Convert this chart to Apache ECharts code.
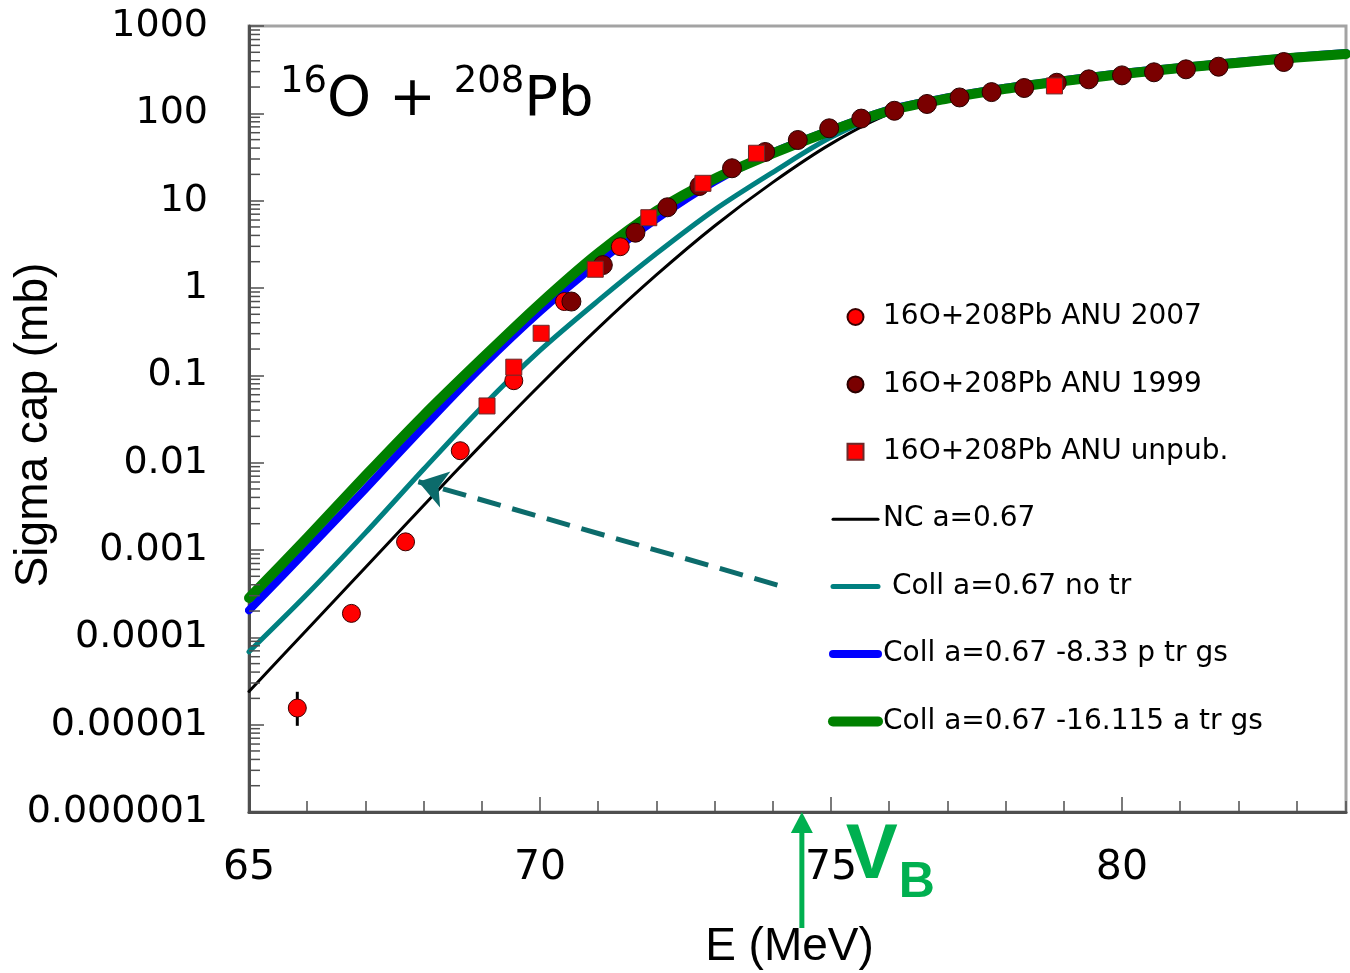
<!DOCTYPE html>
<html>
<head>
<meta charset="utf-8">
<script src="https://cdn.jsdelivr.net/npm/echarts@6/dist/echarts.min.js"></script>
<style>
  html, body { margin: 0; padding: 0; background: #ffffff; }
  #chart { width: 1350px; height: 973px; }
</style>
</head>
<body>
<div id="chart"></div>
<script>
// Fusion (capture) cross section for 16O + 208Pb, log scale in mb vs beam energy

// ---- measured data (E in MeV, sigma in mb) ----
const anu2007E     = [65.83, 66.76, 67.69, 68.63, 69.55, 70.42, 71.38];
const anu2007Sigma = [1.55e-5, 1.88e-4, 1.24e-3, 0.0137, 0.0868, 0.70, 2.97];
// error bar on the lowest point: [E, lower, upper]
const anu2007Err   = [[65.83, 9.7e-6, 2.38e-5]];

const anu1999E     = [70.54, 71.08, 71.64, 72.19, 72.74, 73.30, 73.87, 74.43, 74.97, 75.52,
                      76.09, 76.65, 77.21, 77.76, 78.32, 78.88, 79.43, 80.00, 80.55, 81.10,
                      81.66, 82.78];
const anu1999Sigma = [0.70, 1.83, 4.30, 8.4, 14.7, 23.5, 36.1, 49.5, 67.4, 87,
                      107, 128, 152, 175, 195, 224, 245, 272, 295, 319,
                      342, 387];

const unpubE       = [69.09, 69.55, 70.02, 70.95, 71.87, 72.80, 73.72, 78.84];
const unpubSigma   = [0.0446, 0.124, 0.303, 1.64, 6.38, 15.8, 34.9, 206];

// ---- calculations ----
const calcE        = [65, 66, 67, 68, 69, 70, 71, 72, 73, 74, 75, 76,
                      77, 78, 79, 80, 81, 82, 83, 83.85];
const ncSigma      = [2.4e-5, 1.23e-4, 6.31e-4, 3.24e-3, 0.0162, 0.0776, 0.347, 1.41, 5.13, 16.2,
                      44.7, 97.7, 138, 180, 220, 265, 310, 358, 412, 460];
const collNoTr     = [6.84e-5, 3.13e-4, 1.57e-3, 8.41e-3, 0.0432, 0.193, 0.716, 2.48, 7.85, 21.1,
                      53.1, 101, 142, 183, 223, 268, 313, 361, 415, 463];
const collPTr      = [2.04e-4, 1.0e-3, 5.01e-3, 0.0257, 0.126, 0.537, 1.95, 6.17, 16.6, 35.5,
                      64.5, 110, 152, 196, 240, 289, 338, 389, 446, 490];
const collATr      = [2.82e-4, 1.38e-3, 7.08e-3, 0.0347, 0.155, 0.661, 2.5, 7.6, 17.8, 34.7,
                      63.1, 107, 148, 191, 234, 282, 330, 380, 435, 478];

// ---- axes ----
const xMin = 65, xMax = 83.85;
const xTickLabels = ['65', '70', '75', '80'];
const yMin = 1e-6, yMax = 1000;
const yTickLabels = ['0.000001', '0.00001', '0.0001', '0.001', '0.01', '0.1', '1', '10', '100', '1000'];

// Coulomb barrier marker and the dashed pointer (E, sigma)
const vbEnergy = 74.5;
const pointerFrom = [74.08, 3.97e-4];
const pointerTo   = [67.91, 6.05e-3];

const seriesNames = ['16O+208Pb ANU 2007', '16O+208Pb ANU 1999', '16O+208Pb ANU unpub.',
                     'NC a=0.67', ' Coll a=0.67 no tr', 'Coll a=0.67 -8.33 p tr gs',
                     'Coll a=0.67 -16.115 a tr gs'];

// minor log ticks 2..9 in every decade
const minorTicks = [];
for (let n = -6; n < 3; n++) {
  for (let k = 2; k <= 9; k++) minorTicks.push([xMin, k * Math.pow(10, n)]);
}

const zip = (xs, ys) => xs.map((x, i) => [x, ys[i]]);
const axisGray = '#4f4f4f';
const numFont = 'DejaVu Sans';
const nameFont = 'Liberation Sans';

const chart = echarts.init(document.getElementById('chart'));

function lineSeries(name, data, color, width, extra) {
  return Object.assign({
    name: name,
    type: 'line',
    data: data,
    symbol: 'none',
    smooth: 0.3,
    lineStyle: { color: color, width: width, cap: 'round', join: 'round' },
    itemStyle: { color: color },
    emphasis: { disabled: true },
    silent: true
  }, extra || {});
}

// legend entries: marker icons for data, plain strokes for the calculations
const hiddenDot = { color: 'transparent', borderWidth: 0 };
const legendData = [
  { name: seriesNames[0] },
  { name: seriesNames[1] },
  { name: seriesNames[2], icon: 'path://M0 0H10V10H0Z' },
  { name: seriesNames[3], itemStyle: hiddenDot },
  { name: seriesNames[4], itemStyle: hiddenDot },
  { name: seriesNames[5], itemStyle: hiddenDot },
  { name: seriesNames[6], itemStyle: hiddenDot }
];

const option = {
  animation: false,
  backgroundColor: '#ffffff',
  grid: {
    left: 249, top: 26, width: 1097, height: 786,
    show: true, borderColor: '#a3a3a3', borderWidth: 3, backgroundColor: 'transparent',
    containLabel: false, outerBoundsMode: 'none'
  },
  legend: {
    orient: 'vertical',
    left: 823, top: 295,
    padding: 5,
    itemWidth: 45, itemHeight: 16, itemGap: 33.4,
    selectedMode: false,
    data: legendData,
    lineStyle: { width: 'inherit', cap: 'round' },
    textStyle: { fontFamily: numFont, fontSize: 28, color: '#000', lineHeight: 34 }
  },
  xAxis: [{
    type: 'value', min: xMin, max: xMax, interval: 1,
    axisLine: { show: true, onZero: false, lineStyle: { color: axisGray, width: 3 } },
    axisTick: { show: true, inside: true, length: 11, lineStyle: { color: axisGray, width: 1.5 } },
    axisLabel: { show: false },
    splitLine: { show: false },
    name: 'E (MeV)', nameLocation: 'middle', nameGap: 112, nameMoveOverlap: false,
    nameTextStyle: { fontFamily: nameFont, fontSize: 46, color: '#000', padding: [0, 16, 0, 0] }
  }, {
    type: 'value', min: xMin, max: xMax, interval: 5, position: 'bottom',
    axisLine: { show: false },
    axisTick: { show: true, inside: true, length: 15, lineStyle: { color: axisGray, width: 1.5 } },
    axisLabel: {
      show: true, margin: 36, showMaxLabel: false,
      fontFamily: numFont, fontSize: 41, color: '#000',
      formatter: v => {
        const s = String(Math.round(v));
        return (Math.abs(v - Math.round(v)) < 1e-6 && xTickLabels.includes(s)) ? s : '';
      }
    },
    splitLine: { show: false }
  }],
  yAxis: {
    type: 'log', logBase: 10, min: yMin, max: yMax, interval: 1,
    axisLine: { show: true, onZero: false, lineStyle: { color: axisGray, width: 3 } },
    axisTick: { show: true, inside: true, length: 15, lineStyle: { color: axisGray, width: 1.5 } },
    axisLabel: {
      margin: 41, fontFamily: numFont, fontSize: 38, color: '#000',
      formatter: v => {
        const e = Math.round(Math.log10(v));
        return yTickLabels[e + 6] || '';
      }
    },
    splitLine: { show: false },
    name: 'Sigma cap (mb)', nameLocation: 'middle', nameGap: 192, nameRotate: 90,
    nameMoveOverlap: false,
    nameTextStyle: { fontFamily: nameFont, fontSize: 46, color: '#000', padding: [0, 12, 0, 0] }
  },
  series: [
    {
      name: 'minor ticks', type: 'custom', coordinateSystem: 'cartesian2d',
      data: minorTicks, clip: false, silent: true, z: 5,
      renderItem: (params, api) => {
        const p = api.coord([api.value(0), api.value(1)]);
        return { type: 'line', shape: { x1: p[0], y1: p[1], x2: p[0] + 11, y2: p[1] },
                 style: { stroke: axisGray, lineWidth: 1.5 } };
      }
    },
    lineSeries(seriesNames[3], zip(calcE, ncSigma), '#000000', 3, {
      markLine: {
        silent: true, animation: false,
        symbol: ['none', 'arrow'], symbolSize: 28,
        label: { show: false },
        emphasis: { disabled: true },
        lineStyle: { color: '#0c6b6b', width: 5, type: [24, 12] },
        data: [[{ coord: pointerFrom }, { coord: pointerTo }]]
      }
    }),
    lineSeries(seriesNames[4], zip(calcE, collNoTr), '#008080', 5),
    lineSeries(seriesNames[5], zip(calcE, collPTr), '#0000ff', 8),
    lineSeries(seriesNames[6], zip(calcE, collATr), '#008000', 10),
    {
      name: 'error bars', type: 'custom', coordinateSystem: 'cartesian2d',
      data: anu2007Err, silent: true, z: 3,
      renderItem: (params, api) => {
        const lo = api.coord([api.value(0), api.value(1)]);
        const hi = api.coord([api.value(0), api.value(2)]);
        return { type: 'line', shape: { x1: lo[0], y1: lo[1], x2: hi[0], y2: hi[1] },
                 style: { stroke: '#000', lineWidth: 3 } };
      }
    },
    {
      name: seriesNames[0], type: 'scatter', data: zip(anu2007E, anu2007Sigma),
      symbol: 'circle', symbolSize: 18, z: 4,
      itemStyle: { color: '#ff0000', borderColor: '#3a0000', borderWidth: 1, opacity: 1 },
      emphasis: { disabled: true }, silent: true
    },
    {
      name: seriesNames[1], type: 'scatter', data: zip(anu1999E, anu1999Sigma),
      symbol: 'circle', symbolSize: 19, z: 4,
      itemStyle: { color: '#7a0000', borderColor: '#2a0000', borderWidth: 1, opacity: 1 },
      emphasis: { disabled: true }, silent: true
    },
    {
      name: seriesNames[2], type: 'scatter', data: zip(unpubE, unpubSigma),
      symbol: 'rect', symbolSize: 16, z: 4,
      itemStyle: { color: '#ff0000', borderColor: '#6a2a2a', borderWidth: 1, opacity: 1 },
      emphasis: { disabled: true }, silent: true
    }
  ]
};

chart.setOption(option);

// title, barrier arrow and label
const vbX = chart.convertToPixel({ xAxisIndex: 0 }, vbEnergy);
const axisY = chart.convertToPixel({ yAxisIndex: 0 }, yMin);
chart.setOption({
  graphic: [
    {
      type: 'text', left: 280, top: 64, z: 10,
      style: {
        text: '{s|16}{m|O + }{s|208}{m|Pb}',
        fill: '#000',
        rich: {
          s: { fontFamily: numFont, fontSize: 37, lineHeight: 37, verticalAlign: 'bottom',
               padding: [0, 0, 27, 0], fill: '#000' },
          m: { fontFamily: numFont, fontSize: 56, lineHeight: 56, verticalAlign: 'bottom', fill: '#000' }
        }
      }
    },
    {
      type: 'line', z: 10,
      shape: { x1: vbX, y1: axisY + 116, x2: vbX, y2: axisY + 18 },
      style: { stroke: '#00b050', lineWidth: 5 }
    },
    {
      type: 'polygon', z: 10,
      shape: { points: [[vbX, axisY], [vbX - 11, axisY + 21], [vbX + 11, axisY + 21]] },
      style: { fill: '#00b050' }
    },
    {
      type: 'text', z: 10, x: vbX + 44, y: 817,
      style: { text: 'V', fontFamily: nameFont, fontWeight: 'bold', fontSize: 78, lineHeight: 78,
               fill: '#00b050', verticalAlign: 'top' }
    },
    {
      type: 'text', z: 10, x: vbX + 97, y: 858,
      style: { text: 'B', fontFamily: nameFont, fontWeight: 'bold', fontSize: 50, lineHeight: 50,
               fill: '#00b050', verticalAlign: 'top' }
    }
  ]
});
</script>
</body>
</html>
